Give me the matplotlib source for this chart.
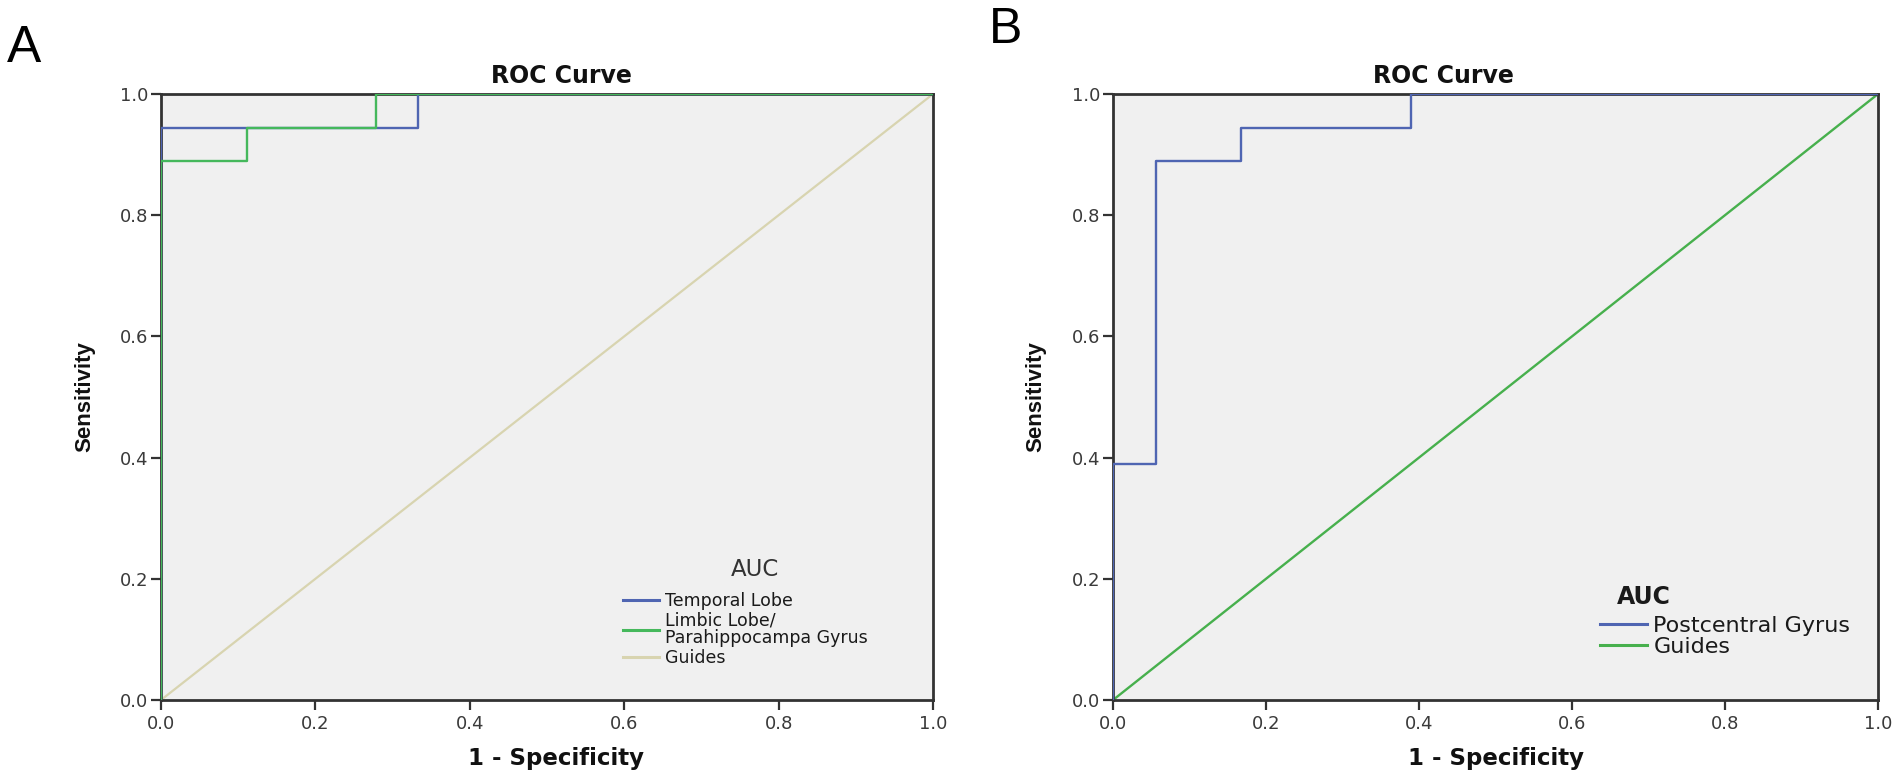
import matplotlib
matplotlib.use('Agg')
import matplotlib.pyplot as plt

W, H, DPI = 1902, 779, 100

# ---------------- data ----------------
tick_values = [0.0, 0.2, 0.4, 0.6, 0.8, 1.0]
tick_labels = ['0.0', '0.2', '0.4', '0.6', '0.8', '1.0']

# Panel A
a_temporal_fpr = [0.0, 0.0, 0.333, 0.333, 1.0]
a_temporal_tpr = [0.0, 0.944, 0.944, 1.0, 1.0]
a_limbic_fpr = [0.0, 0.0, 0.111, 0.111, 0.278, 0.278, 1.0]
a_limbic_tpr = [0.0, 0.889, 0.889, 0.944, 0.944, 1.0, 1.0]
guide_xy = [0.0, 1.0]

# Panel B
b_post_fpr = [0.0, 0.0, 0.056, 0.056, 0.167, 0.167, 0.389, 0.389, 1.0]
b_post_tpr = [0.0, 0.389, 0.389, 0.889, 0.889, 0.944, 0.944, 1.0, 1.0]

a_labels = ['Temporal Lobe', 'Limbic Lobe/\nParahippocampa Gyrus', 'Guides']
b_labels = ['Postcentral Gyrus', 'Guides']

BLUE = '#4f65b2'
GREEN = '#45b85c'
BEIGE = '#d8d4b0'
GREEN_B = '#47b04d'
BG = '#f0f0f0'
SPINE = '#333333'

fig = plt.figure(figsize=(W / DPI, H / DPI), dpi=DPI)
fig.patch.set_facecolor('white')


def rect(l, r, t, b):
    return [l / W, 1 - b / H, (r - l) / W, (b - t) / H]


def fx(x):
    return x / W


def fy(y):
    return 1 - y / H


def style(ax):
    ax.set_facecolor(BG)
    ax.set_xlim(0, 1)
    ax.set_ylim(0, 1)
    ax.set_xticks(tick_values)
    ax.set_xticklabels(tick_labels)
    ax.set_yticks(tick_values)
    ax.set_yticklabels(tick_labels)
    for s in ax.spines.values():
        s.set_color(SPINE)
        s.set_linewidth(2.0)
    ax.tick_params(axis='both', direction='out', length=7.5, width=1.6,
                   color=SPINE, labelsize=13, labelcolor='#3a3a3a')
    ax.tick_params(axis='y', pad=1.5)
    ax.tick_params(axis='x', pad=3)
    for lab in ax.get_xticklabels() + ax.get_yticklabels():
        lab.set_fontfamily('DejaVu Sans')


axA = fig.add_axes(rect(161, 933, 94, 700))
axB = fig.add_axes(rect(1113, 1878, 94, 700))
style(axA)
style(axB)

# ---- Panel A curves ----
lA1, = axA.plot(a_temporal_fpr, a_temporal_tpr, color=BLUE, lw=1.7, zorder=3)
lA2, = axA.plot(a_limbic_fpr, a_limbic_tpr, color=GREEN, lw=1.7, zorder=3)
lA3, = axA.plot(guide_xy, guide_xy, color=BEIGE, lw=1.6, zorder=2)

# ---- Panel B curves ----
lB1, = axB.plot(b_post_fpr, b_post_tpr, color=BLUE, lw=1.7, zorder=3)
lB2, = axB.plot(guide_xy, guide_xy, color=GREEN_B, lw=1.7, zorder=2)

# ---- legends ----
legA = axA.legend([lA1, lA2, lA3], a_labels, loc='upper left',
                  bbox_to_anchor=(fx(623), fy(592)), bbox_transform=fig.transFigure,
                  frameon=False, borderpad=0, borderaxespad=0, fontsize=12.5,
                  handlelength=2.05, handletextpad=0.35, labelspacing=0.1)
for t in legA.get_texts():
    t.set_linespacing(0.95)
    t.set_color('#1a1a1a')
for h in legA.legend_handles:
    h.set_linewidth(2.2)

legB = axB.legend([lB1, lB2], b_labels, loc='upper left',
                  bbox_to_anchor=(fx(1600), fy(616)), bbox_transform=fig.transFigure,
                  frameon=False, borderpad=0, borderaxespad=0, fontsize=16,
                  handlelength=2.1, handletextpad=0.3, labelspacing=0.05)
for t in legB.get_texts():
    t.set_color('#1a1a1a')
for h in legB.legend_handles:
    h.set_linewidth(2.2)

fig.text(fx(755), fy(570), 'AUC', ha='center', va='center', fontsize=16.5,
         color='#333333', family='DejaVu Sans')
fig.text(fx(1617), fy(597), 'AUC', ha='left', va='center', fontsize=17,
         fontweight='bold', color='#1a1a1a', family='DejaVu Sans')

# ---- titles, axis labels ----
for cx in (561, 1443):
    fig.text(fx(cx), fy(83), 'ROC Curve', ha='center', va='baseline',
             fontsize=17, fontweight='bold', color='#111111', family='DejaVu Sans')
for cx in (556, 1496):
    fig.text(fx(cx), fy(765), '1 - Specificity', ha='center', va='baseline',
             fontsize=16.5, fontweight='bold', color='#111111', family='DejaVu Sans')
for cx in (85, 1036):
    fig.text(fx(cx), fy(397), 'Sensitivity', ha='center', va='center', rotation=90,
             fontsize=16, fontweight='bold', color='#111111',
             family=['Liberation Sans', 'DejaVu Sans'])

# ---- panel letters ----
fig.text(fx(7), fy(62), 'A', ha='left', va='baseline', fontsize=37,
         color='black', family=['Liberation Sans', 'DejaVu Sans'])
fig.text(fx(989), fy(43), 'B', ha='left', va='baseline', fontsize=36,
         color='black', family=['Liberation Sans', 'DejaVu Sans'])

fig.savefig('out.png', dpi=DPI, facecolor='white')
